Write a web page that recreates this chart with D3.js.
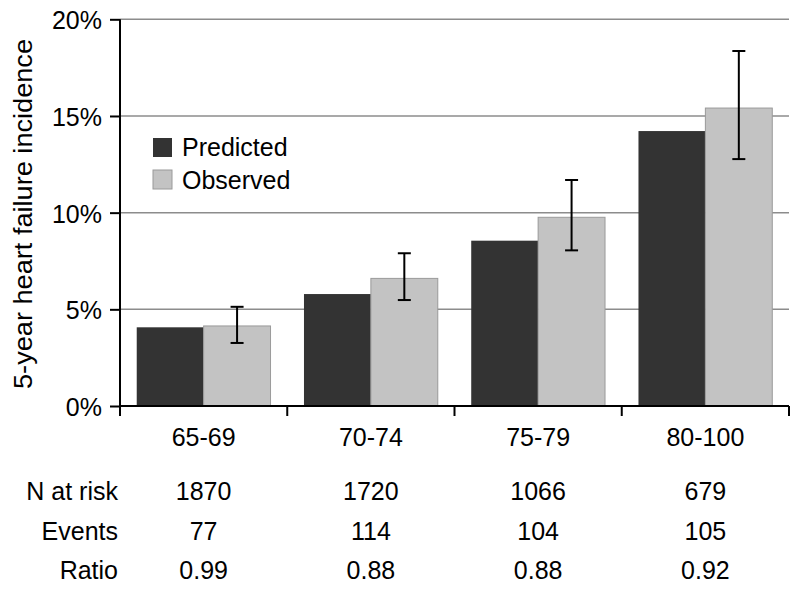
<!DOCTYPE html>
<html>
<head>
<meta charset="utf-8">
<script src="https://cdn.jsdelivr.net/npm/d3@7"></script>
<style>
  body { margin: 0; background: #fff; }
  svg { display: block; font-family: "Liberation Sans", Arial, sans-serif; }
</style>
</head>
<body>
<svg id="chart" width="800" height="590"></svg>
<script>
const categories = ["65-69", "70-74", "75-79", "80-100"];
const seriesNames = ["Predicted", "Observed"];
const predicted = [4.07, 5.79, 8.55, 14.22];
const observed = [4.14, 6.60, 9.76, 15.41];
const obsLower = [3.26, 5.48, 8.05, 12.77];
const obsUpper = [5.13, 7.90, 11.69, 18.36];
const yTicks = [0, 5, 10, 15, 20];
const rowLabels = ["N at risk", "Events", "Ratio"];
const nAtRisk = ["1870", "1720", "1066", "679"];
const events = ["77", "114", "104", "105"];
const ratio = ["0.99", "0.88", "0.88", "0.92"];

(function () {
const colors = {Predicted: "#333333", Observed: "#c3c3c3"};
const FS = 25;
const svg = d3.select("#chart");
const pLeft = 120, pRight = 789, pTop = 19.3, pBottom = 406;

const x0 = d3.scaleBand().domain(categories).range([pLeft, pRight]).paddingInner(0.2).paddingOuter(0.1);
const x1 = d3.scaleBand().domain(seriesNames).range([0, x0.bandwidth()]);
const y = d3.scaleLinear().domain([0, 20]).range([pBottom, pTop]);

// gridlines
svg.append("g").selectAll("line").data(yTicks.filter(d => d > 0)).join("line")
  .attr("x1", pLeft).attr("x2", pRight)
  .attr("y1", d => y(d)).attr("y2", d => y(d))
  .attr("stroke", "#8c8c8c").attr("stroke-width", 1.5);

// bars
const data = categories.map((c, i) => ({c, i, vals: [
  {s: "Predicted", v: predicted[i]},
  {s: "Observed", v: observed[i]}
]}));
const groups = svg.append("g").selectAll("g").data(data).join("g")
  .attr("transform", d => `translate(${x0(d.c)},0)`);
groups.selectAll("rect").data(d => d.vals).join("rect")
  .attr("x", d => x1(d.s)).attr("width", x1.bandwidth())
  .attr("y", d => y(d.v)).attr("height", d => y(0) - y(d.v))
  .attr("fill", d => colors[d.s])
  .attr("stroke", d => d.s === "Observed" ? "#9a9a9a" : "none")
  .attr("stroke-width", 1);

// error bars
const eb = svg.append("g").selectAll("g").data(data).join("g")
  .attr("transform", d => `translate(${x0(d.c) + x1("Observed") + x1.bandwidth() / 2},0)`)
  .attr("stroke", "#000").attr("stroke-width", 2);
eb.append("line").attr("x1", 0).attr("x2", 0)
  .attr("y1", d => y(obsLower[d.i])).attr("y2", d => y(obsUpper[d.i]));
eb.append("line").attr("x1", -6.5).attr("x2", 6.5)
  .attr("y1", d => y(obsLower[d.i])).attr("y2", d => y(obsLower[d.i]));
eb.append("line").attr("x1", -6.5).attr("x2", 6.5)
  .attr("y1", d => y(obsUpper[d.i])).attr("y2", d => y(obsUpper[d.i]));

// y axis
const yAxis = svg.append("g").attr("transform", `translate(${pLeft},0)`)
  .call(d3.axisLeft(y).tickValues(yTicks).tickFormat(d => d + "%").tickSize(10).tickPadding(8));
yAxis.select(".domain").attr("stroke", "#000").attr("stroke-width", 2)
  .attr("d", `M0,${pTop}V${pBottom + 10}`);
yAxis.selectAll(".tick line").attr("stroke", "#000").attr("stroke-width", 2);
yAxis.selectAll(".tick text").attr("font-size", FS).attr("fill", "#000").attr("dy", "0.38em")
  .attr("font-family", "Liberation Sans, Arial, sans-serif");

// x axis
const bounds = categories.map(c => x0(c) + x0.bandwidth() + x0.step() * x0.paddingInner() / 2);
svg.append("line").attr("x1", pLeft).attr("x2", pRight).attr("y1", pBottom).attr("y2", pBottom)
  .attr("stroke", "#000").attr("stroke-width", 2);
svg.append("g").selectAll("line").data(bounds).join("line")
  .attr("x1", d => Math.min(d, pRight)).attr("x2", d => Math.min(d, pRight))
  .attr("y1", pBottom).attr("y2", pBottom + 10)
  .attr("stroke", "#000").attr("stroke-width", 2);

svg.append("g").selectAll("text").data(categories).join("text")
  .attr("x", d => x0(d) + x0.bandwidth() / 2).attr("y", 446)
  .attr("text-anchor", "middle").attr("font-size", FS).text(d => d);

// y title
svg.append("text")
  .attr("transform", `translate(32,214) rotate(-90)`)
  .attr("text-anchor", "middle").attr("font-size", 26)
  .attr("textLength", 350).attr("lengthAdjust", "spacingAndGlyphs")
  .text("5-year heart failure incidence");

// legend
const legend = svg.append("g");
seriesNames.forEach((s, i) => {
  legend.append("rect").attr("x", 153).attr("y", 138 + i * 32).attr("width", 19).attr("height", 19)
    .attr("fill", colors[s]).attr("stroke", s === "Observed" ? "#9a9a9a" : "none");
  legend.append("text").attr("x", 182).attr("y", 156 + i * 33).attr("font-size", FS).text(s);
});

// table
const rows = [nAtRisk, events, ratio];
rows.forEach((r, ri) => {
  const yy = 500 + ri * 39.6;
  svg.append("text").attr("x", 118).attr("y", yy).attr("text-anchor", "end")
    .attr("font-size", FS).text(rowLabels[ri]);
  svg.append("g").selectAll("text").data(r).join("text")
    .attr("x", (d, i) => x0(categories[i]) + x0.bandwidth() / 2).attr("y", yy)
    .attr("text-anchor", "middle").attr("font-size", FS).text(d => d);
});
})();
</script>
</body>
</html>
